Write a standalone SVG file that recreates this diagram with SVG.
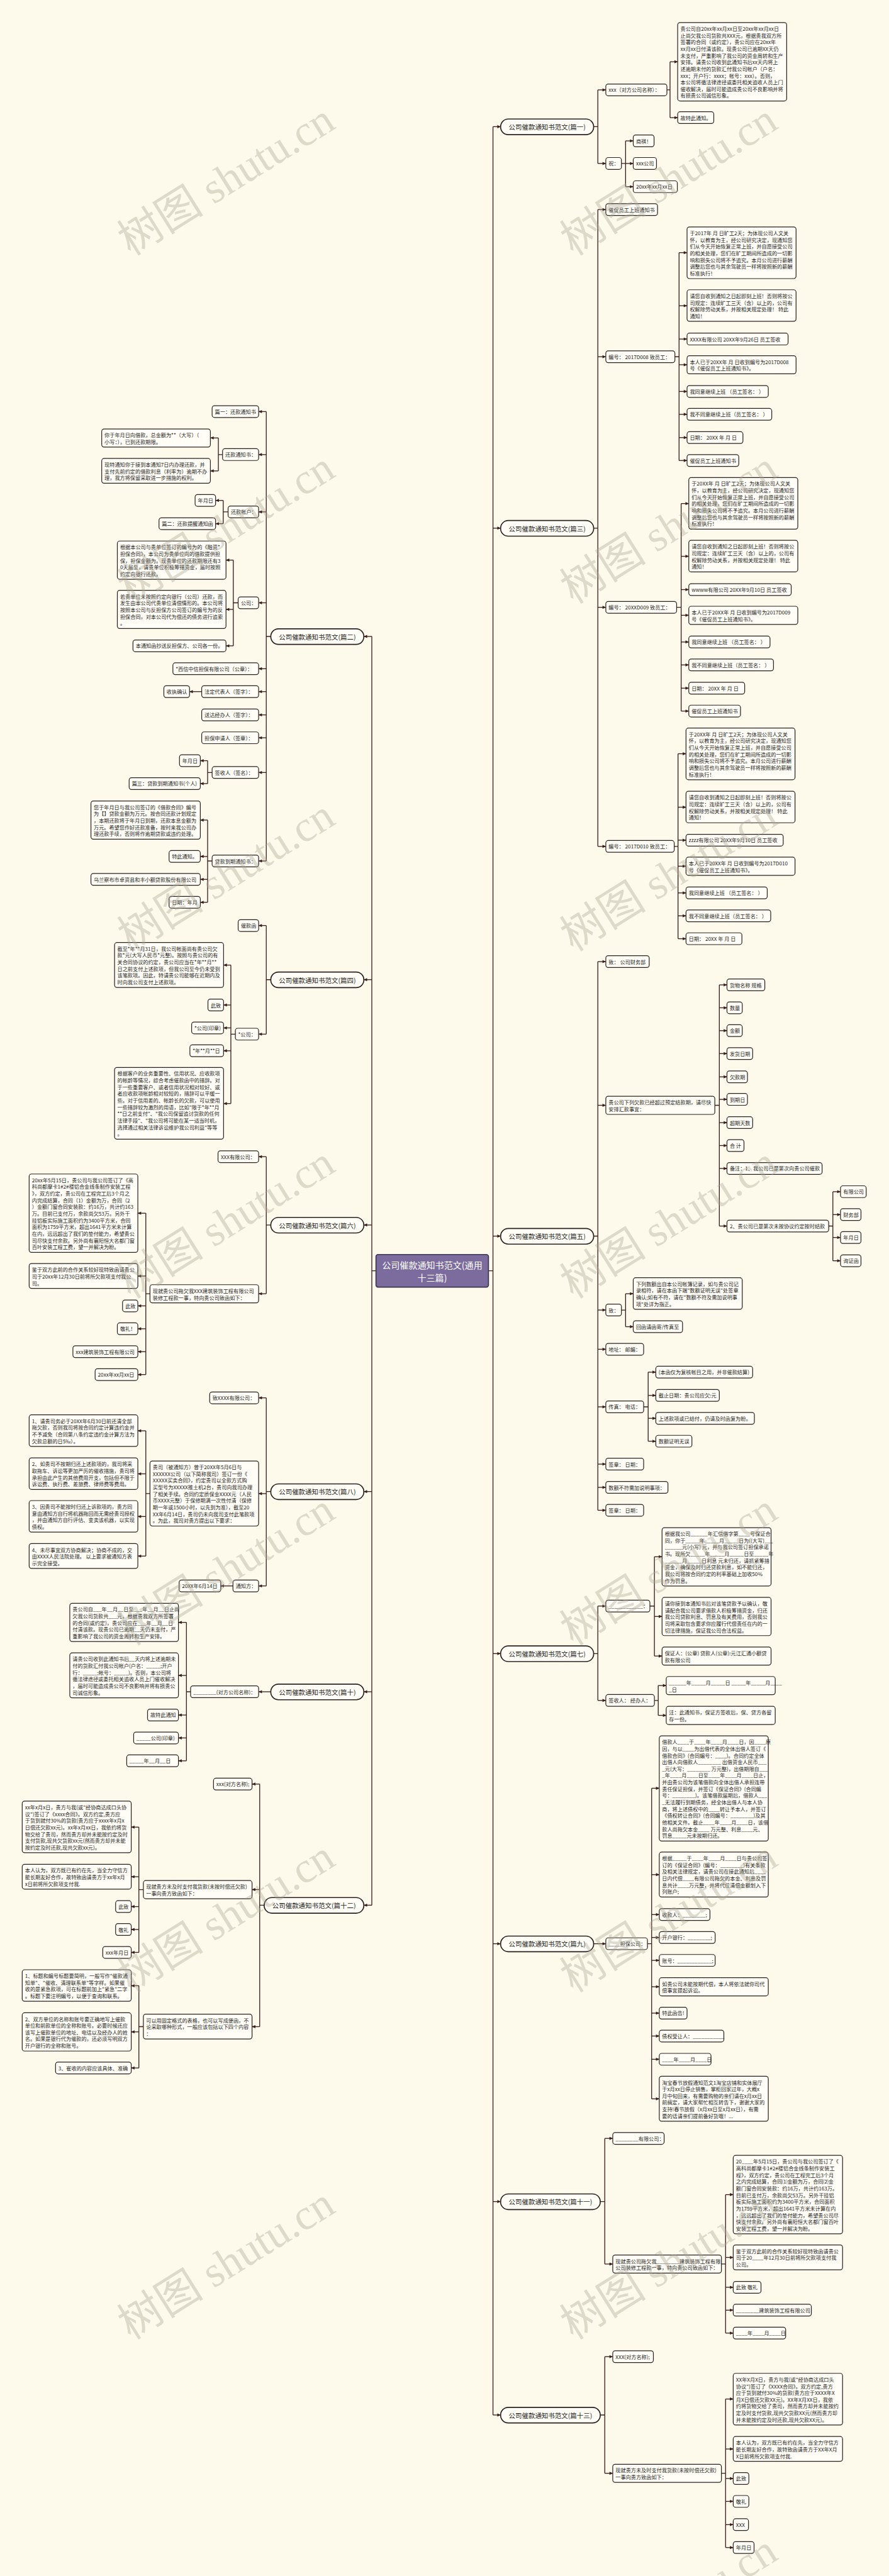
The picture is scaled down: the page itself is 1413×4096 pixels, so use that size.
<svg xmlns="http://www.w3.org/2000/svg" width="1413" height="4096" viewBox="0 0 1413 4096">
<style>
text{font-family:"Noto Sans CJK SC","Noto Sans",sans-serif;font-size:14.8px;fill:#1e1e1e;dominant-baseline:central}
.n rect{fill:#FFFDF5;stroke:#2b2020;stroke-width:2.2px;rx:7px;ry:7px}
.b rect{fill:#FFFDF5;stroke:#2b2020;stroke-width:3px;rx:22px;ry:22px}
.b text{font-size:19px;text-anchor:middle}
#center rect{fill:#7B6C9D;stroke:#3b3552;stroke-width:3px;rx:6px;ry:6px}
#center text{font-size:25.5px;fill:#fff;text-anchor:middle}
#connectors path{fill:none;stroke:#3a1c1c;stroke-width:2.4px}
#connectors .a{marker-end:url(#ar)}
.wm{font-family:"Liberation Serif","Noto Sans CJK SC",serif;font-size:125px;fill:#a9a596;fill-opacity:.38;text-anchor:middle;dominant-baseline:auto}
</style>
<defs>
<marker id="ar" viewBox="0 0 10 10" refX="9.5" refY="5" markerWidth="11" markerHeight="10" markerUnits="userSpaceOnUse" orient="auto"><path d="M0,0.5L10,5L0,9.5z" fill="#3a1c1c"/></marker>
</defs>
<rect width="1413" height="4096" fill="#FEFAEB"/>
<g transform="scale(0.5518)">
<g id="connectors">
<path d="M1407,3662H1420M1420,365V6959"/>
<path class="a" d="M1420,365H1442"/><path class="a" d="M1420,1522H1442"/><path class="a" d="M1420,3562H1442"/><path class="a" d="M1420,4765H1442"/><path class="a" d="M1420,5601H1442"/><path class="a" d="M1420,6344H1442"/><path class="a" d="M1420,6959H1442"/>
<path d="M1083,3662H1071M1071,1834V5490"/>
<path class="a" d="M1071,1834H1048"/><path class="a" d="M1071,2823H1048"/><path class="a" d="M1071,3530H1048"/><path class="a" d="M1071,4298H1048"/><path class="a" d="M1071,4875H1048"/><path class="a" d="M1071,5490H1048"/>
<path d="M1710,365H1722M1722,259V471"/><path class="a" d="M1722,259H1745"/><path class="a" d="M1722,471H1745"/>
<path d="M1918,259H1930M1930,178V339"/><path class="a" d="M1930,178H1952"/><path class="a" d="M1930,339H1952"/>
<path d="M1790,471H1802M1802,406V538"/><path class="a" d="M1802,406H1824"/><path class="a" d="M1802,471H1824"/><path class="a" d="M1802,538H1824"/>
<path d="M1710,1522H1722M1722,604V2439"/><path class="a" d="M1722,604H1745"/><path class="a" d="M1722,1028H1745"/><path class="a" d="M1722,1750H1745"/><path class="a" d="M1722,2439H1745"/>
<path d="M1944,1028H1956M1956,728V1327"/><path class="a" d="M1956,728H1979"/><path class="a" d="M1956,881H1979"/><path class="a" d="M1956,977H1979"/><path class="a" d="M1956,1051H1979"/><path class="a" d="M1956,1128H1979"/><path class="a" d="M1956,1194H1979"/><path class="a" d="M1956,1261H1979"/><path class="a" d="M1956,1327H1979"/>
<path d="M1949,1750H1962M1962,1451V2049"/><path class="a" d="M1962,1451H1984"/><path class="a" d="M1962,1603H1984"/><path class="a" d="M1962,1699H1984"/><path class="a" d="M1962,1773H1984"/><path class="a" d="M1962,1850H1984"/><path class="a" d="M1962,1916H1984"/><path class="a" d="M1962,1983H1984"/><path class="a" d="M1962,2049H1984"/>
<path d="M1942,2439H1953M1953,2172V2705"/><path class="a" d="M1953,2172H1976"/><path class="a" d="M1953,2326H1976"/><path class="a" d="M1953,2421H1976"/><path class="a" d="M1953,2496H1976"/><path class="a" d="M1953,2573H1976"/><path class="a" d="M1953,2639H1976"/><path class="a" d="M1953,2705H1976"/>
<path d="M1710,3562H1722M1722,2771V4352"/><path class="a" d="M1722,2771H1745"/><path class="a" d="M1722,3185H1745"/><path class="a" d="M1722,3775H1745"/><path class="a" d="M1722,3888H1745"/><path class="a" d="M1722,4054H1745"/><path class="a" d="M1722,4219H1745"/><path class="a" d="M1722,4286H1745"/><path class="a" d="M1722,4352H1745"/>
<path d="M2059,3185H2072M2072,2838V3533"/><path class="a" d="M2072,2838H2094"/><path class="a" d="M2072,2904H2094"/><path class="a" d="M2072,2970H2094"/><path class="a" d="M2072,3036H2094"/><path class="a" d="M2072,3103H2094"/><path class="a" d="M2072,3168H2094"/><path class="a" d="M2072,3235H2094"/><path class="a" d="M2072,3301H2094"/><path class="a" d="M2072,3367H2094"/><path class="a" d="M2072,3533H2094"/>
<path d="M2387,3533H2399M2399,3434V3633"/><path class="a" d="M2399,3434H2421"/><path class="a" d="M2399,3500H2421"/><path class="a" d="M2399,3566H2421"/><path class="a" d="M2399,3633H2421"/>
<path d="M1790,3775H1802M1802,3728V3823"/><path class="a" d="M1802,3728H1824"/><path class="a" d="M1802,3823H1824"/>
<path d="M1854,4054H1867M1867,3954V4153"/><path class="a" d="M1867,3954H1889"/><path class="a" d="M1867,4021H1889"/><path class="a" d="M1867,4087H1889"/><path class="a" d="M1867,4153H1889"/>
<path d="M1710,4765H1722M1722,4628V4900"/><path class="a" d="M1722,4628H1745"/><path class="a" d="M1722,4900H1745"/>
<path d="M1872,4628H1885M1885,4486V4772"/><path class="a" d="M1885,4486H1907"/><path class="a" d="M1885,4658H1907"/><path class="a" d="M1885,4772H1907"/>
<path d="M1885,4900H1896M1896,4857V4943"/><path class="a" d="M1896,4857H1919"/><path class="a" d="M1896,4943H1919"/>
<path class="a" d="M1710,5601H1745"/>
<path d="M1865,5601H1877M1877,5153V6048"/><path class="a" d="M1877,5153H1899"/><path class="a" d="M1877,5402H1899"/><path class="a" d="M1877,5517H1899"/><path class="a" d="M1877,5583H1899"/><path class="a" d="M1877,5649H1899"/><path class="a" d="M1877,5725H1899"/><path class="a" d="M1877,5801H1899"/><path class="a" d="M1877,5867H1899"/><path class="a" d="M1877,5934H1899"/><path class="a" d="M1877,6048H1899"/>
<path d="M1729,6344H1742M1742,6162V6524"/><path class="a" d="M1742,6162H1765"/><path class="a" d="M1742,6524H1765"/>
<path d="M2078,6524H2090M2090,6324V6723"/><path class="a" d="M2090,6324H2112"/><path class="a" d="M2090,6505H2112"/><path class="a" d="M2090,6591H2112"/><path class="a" d="M2090,6657H2112"/><path class="a" d="M2090,6723H2112"/>
<path d="M1729,6959H1742M1742,6791V7127"/><path class="a" d="M1742,6791H1765"/><path class="a" d="M1742,7127H1765"/>
<path d="M2078,7127H2090M2090,6913V7341"/><path class="a" d="M2090,6913H2112"/><path class="a" d="M2090,7057H2112"/><path class="a" d="M2090,7142H2112"/><path class="a" d="M2090,7208H2112"/><path class="a" d="M2090,7275H2112"/><path class="a" d="M2090,7341H2112"/>
<path d="M780,1834H767M767,1186V2481"/><path class="a" d="M767,1186H745"/><path class="a" d="M767,1310H745"/><path class="a" d="M767,1475H745"/><path class="a" d="M767,1737H745"/><path class="a" d="M767,1927H745"/><path class="a" d="M767,1993H745"/><path class="a" d="M767,2060H745"/><path class="a" d="M767,2126H745"/><path class="a" d="M767,2226H745"/><path class="a" d="M767,2481H745"/>
<path d="M641,1310H629M629,1262V1357"/><path class="a" d="M629,1262H606"/><path class="a" d="M629,1357H606"/>
<path d="M657,1475H643M643,1442V1509"/><path class="a" d="M643,1442H621"/><path class="a" d="M643,1509H621"/>
<path d="M686,1737H672M672,1614V1861"/><path class="a" d="M672,1614H651"/><path class="a" d="M672,1756H651"/><path class="a" d="M672,1861H651"/>
<path class="a" d="M581,1993H546"/>
<path d="M611,2226H598M598,2192V2258"/><path class="a" d="M598,2192H577"/><path class="a" d="M598,2258H577"/>
<path d="M611,2481H598M598,2363V2600"/><path class="a" d="M598,2363H577"/><path class="a" d="M598,2468H577"/><path class="a" d="M598,2534H577"/><path class="a" d="M598,2600H577"/>
<path d="M780,2823H767M767,2667V2980"/><path class="a" d="M767,2667H745"/><path class="a" d="M767,2980H745"/>
<path d="M678,2980H665M665,2781V3180"/><path class="a" d="M665,2781H644"/><path class="a" d="M665,2896H644"/><path class="a" d="M665,2962H644"/><path class="a" d="M665,3028H644"/><path class="a" d="M665,3180H644"/>
<path d="M780,3530H767M767,3333V3728"/><path class="a" d="M767,3333H745"/><path class="a" d="M767,3728H745"/>
<path d="M432,3728H420M420,3496V3961"/><path class="a" d="M420,3496H397"/><path class="a" d="M420,3677H397"/><path class="a" d="M420,3763H397"/><path class="a" d="M420,3829H397"/><path class="a" d="M420,3895H397"/><path class="a" d="M420,3961H397"/>
<path d="M780,4298H767M767,4028V4570"/><path class="a" d="M767,4028H745"/><path class="a" d="M767,4304H745"/><path class="a" d="M767,4570H745"/>
<path d="M432,4304H420M420,4123V4484"/><path class="a" d="M420,4123H397"/><path class="a" d="M420,4247H397"/><path class="a" d="M420,4370H397"/><path class="a" d="M420,4484H397"/>
<path class="a" d="M671,4570H636"/>
<path class="a" d="M780,4875H745"/>
<path d="M549,4875H537M537,4675V5074"/><path class="a" d="M537,4675H514"/><path class="a" d="M537,4828H514"/><path class="a" d="M537,4942H514"/><path class="a" d="M537,5008H514"/><path class="a" d="M537,5074H514"/>
<path d="M761,5490H748M748,5141V5840"/><path class="a" d="M748,5141H726"/><path class="a" d="M748,5445H726"/><path class="a" d="M748,5840H726"/>
<path d="M413,5445H400M400,5265V5626"/><path class="a" d="M400,5265H378"/><path class="a" d="M400,5408H378"/><path class="a" d="M400,5494H378"/><path class="a" d="M400,5560H378"/><path class="a" d="M400,5626H378"/>
<path d="M413,5840H400M400,5722V5959"/><path class="a" d="M400,5722H378"/><path class="a" d="M400,5855H378"/><path class="a" d="M400,5959H378"/>
</g>

<g id="center"><rect x="1083" y="3615" width="324" height="94"/><text x="1245" y="3645">公司催款通知书范文(通用</text><text x="1245" y="3680">十三篇)</text></g>

<!-- right branches -->
<g id="b1" class="b"><rect x="1442" y="343" width="268" height="45"/><text x="1576" y="365.5">公司催款通知书范文(篇一)</text></g>
<g id="b3" class="b"><rect x="1442" y="1500" width="268" height="45"/><text x="1576" y="1522.5">公司催款通知书范文(篇三)</text></g>
<g id="b5" class="b"><rect x="1442" y="3540" width="268" height="45"/><text x="1576" y="3562.5">公司催款通知书范文(篇五)</text></g>
<g id="b7" class="b"><rect x="1442" y="4743" width="268" height="45"/><text x="1576" y="4765.5">公司催款通知书范文(篇七)</text></g>
<g id="b9" class="b"><rect x="1442" y="5579" width="268" height="45"/><text x="1576" y="5601.5">公司催款通知书范文(篇九)</text></g>
<g id="b11" class="b"><rect x="1442" y="6322" width="287" height="45"/><text x="1585.5" y="6344.5">公司催款通知书范文(篇十一)</text></g>
<g id="b13" class="b"><rect x="1442" y="6937" width="287" height="45"/><text x="1585.5" y="6959.5">公司催款通知书范文(篇十三)</text></g>
<!-- left branches -->
<g id="b2" class="b"><rect x="780" y="1812" width="268" height="45"/><text x="914" y="1834.5">公司催款通知书范文(篇二)</text></g>
<g id="b4" class="b"><rect x="780" y="2801" width="268" height="45"/><text x="914" y="2823.5">公司催款通知书范文(篇四)</text></g>
<g id="b6" class="b"><rect x="780" y="3508" width="268" height="45"/><text x="914" y="3530.5">公司催款通知书范文(篇六)</text></g>
<g id="b8" class="b"><rect x="780" y="4276" width="268" height="45"/><text x="914" y="4298.5">公司催款通知书范文(篇八)</text></g>
<g id="b10" class="b"><rect x="780" y="4853" width="268" height="45"/><text x="914" y="4875.5">公司催款通知书范文(篇十)</text></g>
<g id="b12" class="b"><rect x="761" y="5468" width="287" height="45"/><text x="904.5" y="5490.5">公司催款通知书范文(篇十二)</text></g>

<!-- 篇一 -->
<g id="r1a" class="n"><rect x="1745" y="242" width="176" height="34"/><text x="1753" y="259">xxx（对方公司名称）：</text></g>
<g id="r1a1" class="n"><rect x="1952" y="65" width="314" height="226"/><text x="1960" y="81.5"><tspan x="1960">贵公司自20xx年xx月xx日至20xx年xx月xx日</tspan><tspan x="1960" dy="19.3">止尚欠我公司货款共XXX元，根据贵我双方所</tspan><tspan x="1960" dy="19.3">签署的合同（或约定），贵公司应在20xx年</tspan><tspan x="1960" dy="19.3">xx月xx日付清该款。现贵公司已逾期XX天仍</tspan><tspan x="1960" dy="19.3">未支付，严重影响了我公司的资金周转和生产</tspan><tspan x="1960" dy="19.3">安排。请贵公司收到此通知书后xx天内将上</tspan><tspan x="1960" dy="19.3">述逾期未付的货款汇付我公司帐户（户名：</tspan><tspan x="1960" dy="19.3">xxx；开户行：xxxx；帐号：xxx）。否则，</tspan><tspan x="1960" dy="19.3">本公司将循法律途径或委托相关追收人员上门</tspan><tspan x="1960" dy="19.3">催收解决，届时可能造成贵公司不良影响并将</tspan><tspan x="1960" dy="19.3">有损贵公司诚信形象。</tspan></text></g>
<g id="r1a2" class="n"><rect x="1952" y="322" width="104" height="34"/><text x="1960" y="339">故特此通知。</text></g>
<g id="r1b" class="n"><rect x="1745" y="454" width="45" height="34"/><text x="1753" y="471">祝：</text></g>
<g id="r1b1" class="n"><rect x="1824" y="389" width="60" height="34"/><text x="1832" y="406">商祺！</text></g>
<g id="r1b2" class="n"><rect x="1824" y="454" width="67" height="34"/><text x="1832" y="471">xxx公司</text></g>
<g id="r1b3" class="n"><rect x="1824" y="521" width="127" height="34"/><text x="1832" y="538">20xx年xx月xx日</text></g>

<!-- 篇三 -->
<g id="r3a" class="n"><rect x="1745" y="587" width="149" height="34"/><text x="1753" y="604">催促员工上班通知书</text></g>
<g id="r3b" class="n"><rect x="1745" y="1011" width="199" height="34"/><text x="1753" y="1028">编号： 2017D008 致员工：</text></g>
<g id="r3b1" class="n"><rect x="1979" y="654" width="314" height="148.8"/><text x="1987" y="670.5"><tspan x="1987">于2017年 月 日旷工2天；为体现公司人文关</tspan><tspan x="1987" dy="19.3">怀，以教育为主，经公司研究决定，现通知您</tspan><tspan x="1987" dy="19.3">们从今天开始恢复正常上班，并自愿接受公司</tspan><tspan x="1987" dy="19.3">的相关处理，您们在旷工期间所造成的一切影</tspan><tspan x="1987" dy="19.3">响和损失公司将不予追究。本月公司进行薪酬</tspan><tspan x="1987" dy="19.3">调整后您也与其余驾驶员一样将按照新的薪酬</tspan><tspan x="1987" dy="19.3">标准执行！</tspan></text></g>
<g id="r3b2" class="n"><rect x="1979" y="835" width="314" height="90.9"/><text x="1987" y="851.5"><tspan x="1987">请您自收到通知之日起即刻上班！否则将按公</tspan><tspan x="1987" dy="19.3">司规定：连续旷工三天（含）以上的，公司有</tspan><tspan x="1987" dy="19.3">权解除劳动关系，并按相关规定处理！ 特此</tspan><tspan x="1987" dy="19.3">通知！</tspan></text></g>
<g id="r3b3" class="n"><rect x="1979" y="960" width="291" height="34"/><text x="1987" y="977">XXXX有限公司 20XX年9月26日 员工签收</text></g>
<g id="r3b4" class="n"><rect x="1979" y="1025" width="314" height="52.3"/><text x="1987" y="1041.5"><tspan x="1987">本人已于20XX年 月 日收到编号为2017D008</tspan><tspan x="1987" dy="19.3">号《催促员工上班通知书》。</tspan></text></g>
<g id="r3b5" class="n"><rect x="1979" y="1111" width="234" height="34"/><text x="1987" y="1128">我同意继续上班 （员工签名： ）</text></g>
<g id="r3b6" class="n"><rect x="1979" y="1177" width="244" height="34"/><text x="1987" y="1194">我不同意继续上班（员工签名： ）</text></g>
<g id="r3b7" class="n"><rect x="1979" y="1244" width="161" height="34"/><text x="1987" y="1261">日期： 20XX 年 月 日</text></g>
<g id="r3b8" class="n"><rect x="1979" y="1310" width="149" height="34"/><text x="1987" y="1327">催促员工上班通知书</text></g>
<g id="r3c" class="n"><rect x="1745" y="1733" width="204" height="34"/><text x="1753" y="1750">编号： 20XXD009 致员工：</text></g>
<g id="r3c1" class="n"><rect x="1984" y="1376" width="314" height="148.8"/><text x="1992" y="1392.5"><tspan x="1992">于20XX年 月 日旷工2天；为体现公司人文关</tspan><tspan x="1992" dy="19.3">怀，以教育为主，经公司研究决定，现通知您</tspan><tspan x="1992" dy="19.3">们从今天开始恢复正常上班，并自愿接受公司</tspan><tspan x="1992" dy="19.3">的相关处理，您们在旷工期间所造成的一切影</tspan><tspan x="1992" dy="19.3">响和损失公司将不予追究。本月公司进行薪酬</tspan><tspan x="1992" dy="19.3">调整后您也与其余驾驶员一样将按照新的薪酬</tspan><tspan x="1992" dy="19.3">标准执行！</tspan></text></g>
<g id="r3c2" class="n"><rect x="1984" y="1557" width="314" height="90.9"/><text x="1992" y="1573.5"><tspan x="1992">请您自收到通知之日起即刻上班！否则将按公</tspan><tspan x="1992" dy="19.3">司规定：连续旷工三天（含）以上的，公司有</tspan><tspan x="1992" dy="19.3">权解除劳动关系，并按相关规定处理！ 特此</tspan><tspan x="1992" dy="19.3">通知！</tspan></text></g>
<g id="r3c3" class="n"><rect x="1984" y="1682" width="295" height="34"/><text x="1992" y="1699">wwww有限公司 20XX年9月10日 员工签收</text></g>
<g id="r3c4" class="n"><rect x="1984" y="1747" width="314" height="52.3"/><text x="1992" y="1763.5"><tspan x="1992">本人已于20XX年 月 日收到编号为2017D009</tspan><tspan x="1992" dy="19.3">号《催促员工上班通知书》。</tspan></text></g>
<g id="r3c5" class="n"><rect x="1984" y="1833" width="234" height="34"/><text x="1992" y="1850">我同意继续上班 （员工签名： ）</text></g>
<g id="r3c6" class="n"><rect x="1984" y="1899" width="244" height="34"/><text x="1992" y="1916">我不同意继续上班（员工签名： ）</text></g>
<g id="r3c7" class="n"><rect x="1984" y="1966" width="161" height="34"/><text x="1992" y="1983">日期： 20XX 年 月 日</text></g>
<g id="r3c8" class="n"><rect x="1984" y="2032" width="149" height="34"/><text x="1992" y="2049">催促员工上班通知书</text></g>
<g id="r3d" class="n"><rect x="1745" y="2422" width="197" height="34"/><text x="1753" y="2439">编号： 2017D010 致员工：</text></g>
<g id="r3d1" class="n"><rect x="1976" y="2098" width="314" height="148.8"/><text x="1984" y="2114.5"><tspan x="1984">于20XX年 月 日旷工2天；为体现公司人文关</tspan><tspan x="1984" dy="19.3">怀，以教育为主，经公司研究决定，现通知您</tspan><tspan x="1984" dy="19.3">们从今天开始恢复正常上班，并自愿接受公司</tspan><tspan x="1984" dy="19.3">的相关处理，您们在旷工期间所造成的一切影</tspan><tspan x="1984" dy="19.3">响和损失公司将不予追究。本月公司进行薪酬</tspan><tspan x="1984" dy="19.3">调整后您也与其余驾驶员一样将按照新的薪酬</tspan><tspan x="1984" dy="19.3">标准执行！</tspan></text></g>
<g id="r3d2" class="n"><rect x="1976" y="2280" width="314" height="90.9"/><text x="1984" y="2296.5"><tspan x="1984">请您自收到通知之日起即刻上班！否则将按公</tspan><tspan x="1984" dy="19.3">司规定：连续旷工三天（含）以上的，公司有</tspan><tspan x="1984" dy="19.3">权解除劳动关系，并按相关规定处理！ 特此</tspan><tspan x="1984" dy="19.3">通知！</tspan></text></g>
<g id="r3d3" class="n"><rect x="1976" y="2404" width="280" height="34"/><text x="1984" y="2421">zzzz有限公司 20XX年9月10日 员工签收</text></g>
<g id="r3d4" class="n"><rect x="1976" y="2470" width="314" height="52.3"/><text x="1984" y="2486.5"><tspan x="1984">本人已于20XX年 月 日收到编号为2017D010</tspan><tspan x="1984" dy="19.3">号《催促员工上班通知书》。</tspan></text></g>
<g id="r3d5" class="n"><rect x="1976" y="2556" width="234" height="34"/><text x="1984" y="2573">我同意继续上班 （员工签名： ）</text></g>
<g id="r3d6" class="n"><rect x="1976" y="2622" width="244" height="34"/><text x="1984" y="2639">我不同意继续上班（员工签名： ）</text></g>
<g id="r3d7" class="n"><rect x="1976" y="2688" width="161" height="34"/><text x="1984" y="2705">日期： 20XX 年 月 日</text></g>

<!-- 篇五 -->
<g id="r5a" class="n"><rect x="1745" y="2754" width="125" height="34"/><text x="1753" y="2771">致： 公司财务部</text></g>
<g id="r5b" class="n"><rect x="1745" y="3159" width="314" height="52.3"/><text x="1753" y="3175.5"><tspan x="1753">贵公司下列欠款已经超过预定结款期，请尽快</tspan><tspan x="1753" dy="19.3">安排汇款事宜：</tspan></text></g>
<g id="r5b1" class="n"><rect x="2094" y="2821" width="109" height="34"/><text x="2102" y="2838">货物名称 规格</text></g>
<g id="r5b2" class="n"><rect x="2094" y="2887" width="44" height="34"/><text x="2102" y="2904">数量</text></g>
<g id="r5b3" class="n"><rect x="2094" y="2953" width="44" height="34"/><text x="2102" y="2970">金额</text></g>
<g id="r5b4" class="n"><rect x="2094" y="3019" width="74" height="34"/><text x="2102" y="3036">发货日期</text></g>
<g id="r5b5" class="n"><rect x="2094" y="3086" width="59" height="34"/><text x="2102" y="3103">欠款期</text></g>
<g id="r5b6" class="n"><rect x="2094" y="3151" width="59" height="34"/><text x="2102" y="3168">到期日</text></g>
<g id="r5b7" class="n"><rect x="2094" y="3218" width="74" height="34"/><text x="2102" y="3235">超期天数</text></g>
<g id="r5b8" class="n"><rect x="2094" y="3284" width="49" height="34"/><text x="2102" y="3301">合 计</text></g>
<g id="r5b9" class="n"><rect x="2094" y="3350" width="274" height="34"/><text x="2102" y="3367">备注：1、我公司已是第次向贵公司催款</text></g>
<g id="r5b10" class="n"><rect x="2094" y="3516" width="293" height="34"/><text x="2102" y="3533">2、贵公司已是第次未按协议约定按时结款</text></g>
<g id="r5c1" class="n"><rect x="2421" y="3417" width="74" height="34"/><text x="2429" y="3434">有限公司</text></g>
<g id="r5c2" class="n"><rect x="2421" y="3483" width="59" height="34"/><text x="2429" y="3500">财务部</text></g>
<g id="r5c3" class="n"><rect x="2421" y="3549" width="59" height="34"/><text x="2429" y="3566">年月日</text></g>
<g id="r5c4" class="n"><rect x="2421" y="3616" width="59" height="34"/><text x="2429" y="3633">询证函</text></g>
<g id="r5d" class="n"><rect x="1745" y="3758" width="45" height="34"/><text x="1753" y="3775">致：</text></g>
<g id="r5d1" class="n"><rect x="1824" y="3682" width="314" height="90.9"/><text x="1832" y="3698.5"><tspan x="1832">下列数额出自本公司帐簿记录，如与贵公司记</tspan><tspan x="1832" dy="19.3">录相符，请在本函下端"数额证明无误"处签章</tspan><tspan x="1832" dy="19.3">确认;如有不符，请在"数额不符及需加说明事</tspan><tspan x="1832" dy="19.3">项"处详为指正。</tspan></text></g>
<g id="r5d2" class="n"><rect x="1824" y="3806" width="142" height="34"/><text x="1832" y="3823">回函请函寄/传真至</text></g>
<g id="r5e" class="n"><rect x="1745" y="3871" width="109" height="34"/><text x="1753" y="3888">地址： 邮编：</text></g>
<g id="r5f" class="n"><rect x="1745" y="4037" width="109" height="34"/><text x="1753" y="4054">传真： 电话：</text></g>
<g id="r5f1" class="n"><rect x="1889" y="3937" width="279" height="34"/><text x="1897" y="3954">(本函仅为复核帐目之用，并非催款结算)</text></g>
<g id="r5f2" class="n"><rect x="1889" y="4004" width="183" height="34"/><text x="1897" y="4021">截止日期：贵公司应欠:元</text></g>
<g id="r5f3" class="n"><rect x="1889" y="4070" width="284" height="34"/><text x="1897" y="4087">上述款项或已结付，仍请及时函复为盼。</text></g>
<g id="r5f4" class="n"><rect x="1889" y="4136" width="104" height="34"/><text x="1897" y="4153">数额证明无误</text></g>
<g id="r5g" class="n"><rect x="1745" y="4202" width="109" height="34"/><text x="1753" y="4219">签章： 日期：</text></g>
<g id="r5h" class="n"><rect x="1745" y="4269" width="179" height="34"/><text x="1753" y="4286">数额不符需加说明事项：</text></g>
<g id="r5i" class="n"><rect x="1745" y="4335" width="109" height="34"/><text x="1753" y="4352">签章： 日期：</text></g>

<!-- 篇七 -->
<g id="r7a" class="n"><rect x="1745" y="4611" width="127" height="34"/><text x="1753" y="4628">____________：</text></g>
<g id="r7a1" class="n"><rect x="1907" y="4402" width="314" height="168.1"/><text x="1915" y="4418.5"><tspan x="1915">根据我公司______年汇信借字第____号保证合</tspan><tspan x="1915" dy="19.3">同，你于_____年_____月_____日为((大写)___</tspan><tspan x="1915" dy="19.3">______元(小写) 元，并与我公司签订担保承诺</tspan><tspan x="1915" dy="19.3">书。现所欠_____年_____月_____日至_____年</tspan><tspan x="1915" dy="19.3">______月_____日利息 元未归还，请抓紧筹措</tspan><tspan x="1915" dy="19.3">资金，确保及时归还贷款利息，如不能归还，</tspan><tspan x="1915" dy="19.3">我公司将按合同约定的利率基础上加收50%</tspan><tspan x="1915" dy="19.3">作为罚息。</tspan></text></g>
<g id="r7a2" class="n"><rect x="1907" y="4603" width="314" height="110.2"/><text x="1915" y="4619.5"><tspan x="1915">请你接到本通知书后对该笔贷款予以确认，敬</tspan><tspan x="1915" dy="19.3">请配合我公司要求借款人积极筹措资金，归还</tspan><tspan x="1915" dy="19.3">我公司贷款利息、罚息及有关费用，否则我公</tspan><tspan x="1915" dy="19.3">司将采取包含要求你应履行代偿责任在内的一</tspan><tspan x="1915" dy="19.3">切法律措施，保证我公司合法权益。</tspan></text></g>
<g id="r7a3" class="n"><rect x="1907" y="4746" width="314" height="52.3"/><text x="1915" y="4762.5"><tspan x="1915">保证人：(公章) 贷款人(公章):元江汇通小额贷</tspan><tspan x="1915" dy="19.3">款有限公司</tspan></text></g>
<g id="r7b" class="n"><rect x="1745" y="4883" width="140" height="34"/><text x="1753" y="4900">签收人： 经办人：</text></g>
<g id="r7b1" class="n"><rect x="1919" y="4831" width="314" height="52.3"/><text x="1927" y="4847.5"><tspan x="1927">______年_____月_____日 _____年_____月____</tspan><tspan x="1927" dy="19.3">_日</tspan></text></g>
<g id="r7b2" class="n"><rect x="1919" y="4917" width="314" height="52.3"/><text x="1927" y="4933.5"><tspan x="1927">注：此通知书，保证方签收后，保、贷方各留</tspan><tspan x="1927" dy="19.3">存一份。</tspan></text></g>

<!-- 篇九 -->
<g id="r9a" class="n"><rect x="1745" y="5584" width="120" height="34"/><text x="1753" y="5601">____担保公司：</text></g>
<g id="r9a1" class="n"><rect x="1899" y="5002" width="314" height="303.2"/><text x="1907" y="5018.5"><tspan x="1907">借款人____于____年____月____日，因____原</tspan><tspan x="1907" dy="19.3">因，与以____为出借代表的全体出借人签订《</tspan><tspan x="1907" dy="19.3">借款合同》(合同编号：____)。合同约定全体</tspan><tspan x="1907" dy="19.3">出借人向借款人________ 出借资金人民币___</tspan><tspan x="1907" dy="19.3">_元(大写：________ 万元整)，出借期限自___</tspan><tspan x="1907" dy="19.3">_年____月____日至____年____月____日止，</tspan><tspan x="1907" dy="19.3">并由贵公司为该笔借款向全体出借人承担连带</tspan><tspan x="1907" dy="19.3">责任保证担保，并签订《保证合同》(合同编</tspan><tspan x="1907" dy="19.3">号：________)。该笔借款届期后，借款人___</tspan><tspan x="1907" dy="19.3">_无法履行到期债务，经全体出借人与本人协</tspan><tspan x="1907" dy="19.3">商，将上述债权中的____转让予本人，并签订</tspan><tspan x="1907" dy="19.3">《债权转让合同》(合同编号：________)及其</tspan><tspan x="1907" dy="19.3">他相关文件。截止____年____月____日，该借</tspan><tspan x="1907" dy="19.3">款人尚拖欠本金____ 万元整、利息____元、</tspan><tspan x="1907" dy="19.3">罚息_____元未按期归还。</tspan></text></g>
<g id="r9a2" class="n"><rect x="1899" y="5337" width="314" height="129.5"/><text x="1907" y="5353.5"><tspan x="1907">根据_____于____年____月____日与贵公司签</tspan><tspan x="1907" dy="19.3">订的《保证合同》(编号：________)有关条款</tspan><tspan x="1907" dy="19.3">及相关法律规定，请贵公司在接此通知后____</tspan><tspan x="1907" dy="19.3">日内代偿____有限公司拖欠的本金、利息及罚</tspan><tspan x="1907" dy="19.3">息共计____万元整，并将代位清偿金额划入下</tspan><tspan x="1907" dy="19.3">列账户;</tspan></text></g>
<g id="r9a3" class="n"><rect x="1899" y="5500" width="146" height="34"/><text x="1907" y="5517">收款人：________;</text></g>
<g id="r9a4" class="n"><rect x="1899" y="5566" width="161" height="34"/><text x="1907" y="5583">开户银行：________;</text></g>
<g id="r9a5" class="n"><rect x="1899" y="5632" width="161" height="34"/><text x="1907" y="5649">账号：____________;</text></g>
<g id="r9a6" class="n"><rect x="1899" y="5699" width="314" height="52.3"/><text x="1907" y="5715.5"><tspan x="1907">如贵公司未能按期代偿，本人将依法就你司代</tspan><tspan x="1907" dy="19.3">偿事宜提起诉讼。</tspan></text></g>
<g id="r9a7" class="n"><rect x="1899" y="5784" width="80" height="34"/><text x="1907" y="5801">特此函告!</text></g>
<g id="r9a8" class="n"><rect x="1899" y="5850" width="186" height="34"/><text x="1907" y="5867">债权受让人：___________</text></g>
<g id="r9a9" class="n"><rect x="1899" y="5917" width="149" height="34"/><text x="1907" y="5934">____年____月____日</text></g>
<g id="r9a10" class="n"><rect x="1899" y="5983" width="314" height="129.5"/><text x="1907" y="5999.5"><tspan x="1907">淘宝春节放假通知范文1淘宝店铺和实体展厅</tspan><tspan x="1907" dy="19.3">于x月xx日停止销售，掌柜回家过年，大概x</tspan><tspan x="1907" dy="19.3">月中旬回来，有需要购物的亲们请在x月xx日</tspan><tspan x="1907" dy="19.3">前搞定，请大家帮忙相互转告下，谢谢大家的</tspan><tspan x="1907" dy="19.3">支持!春节放假（x月xx日至x月xx日），有需</tspan><tspan x="1907" dy="19.3">要的话请亲们提前备好货哦！...</tspan></text></g>

<!-- 篇十一 -->
<g id="r11a" class="n"><rect x="1765" y="6145" width="148" height="34"/><text x="1773" y="6162">________有限公司：</text></g>
<g id="r11b" class="n"><rect x="1765" y="6498" width="313" height="52.3"/><text x="1773" y="6514.5"><tspan x="1773">现就贵公司拖欠我________建筑装饰工程有限</tspan><tspan x="1773" dy="19.3">公司装修工程款一事，特向贵公司致函如下：</tspan></text></g>
<g id="r11b1" class="n"><rect x="2112" y="6211" width="315" height="226"/><text x="2120" y="6227.5"><tspan x="2120">20____年5月15日，贵公司与我公司签订了《</tspan><tspan x="2120" dy="19.3">高科尚都摩卡1#2#楼铝合金线条制作安装工</tspan><tspan x="2120" dy="19.3">程》，双方约定，贵公司在工程完工后3个月</tspan><tspan x="2120" dy="19.3">之内完成结算，合同⑴金额为万，合同⑵金</tspan><tspan x="2120" dy="19.3">额门窗合同安装款：约16万，共计约163万。</tspan><tspan x="2120" dy="19.3">目前已支付万，余款尚欠53万。另外干挂铝</tspan><tspan x="2120" dy="19.3">板实际施工面积约为3400平方米，合同面积</tspan><tspan x="2120" dy="19.3">为1759平方米，超出1641平方米未计算在内</tspan><tspan x="2120" dy="19.3">，远远超出了我们的垫付能力，希望贵公司尽</tspan><tspan x="2120" dy="19.3">快支付余款。另外尚有襄阳恒大名都门窗百叶</tspan><tspan x="2120" dy="19.3">安装工程工费，望一并解决为盼。</tspan></text></g>
<g id="r11b2" class="n"><rect x="2112" y="6469" width="315" height="71.6"/><text x="2120" y="6485.5"><tspan x="2120">鉴于双方此前的合作关系较好现特致函请贵公</tspan><tspan x="2120" dy="19.3">司于20____年12月30日前将所欠款项支付我</tspan><tspan x="2120" dy="19.3">公司。</tspan></text></g>
<g id="r11b3" class="n"><rect x="2112" y="6574" width="80" height="34"/><text x="2120" y="6591">此致 敬礼</text></g>
<g id="r11b4" class="n"><rect x="2112" y="6640" width="225" height="34"/><text x="2120" y="6657">________建筑装饰工程有限公司</text></g>
<g id="r11b5" class="n"><rect x="2112" y="6706" width="151" height="34"/><text x="2120" y="6723">____年____月____日</text></g>

<!-- 篇十三 -->
<g id="r13a" class="n"><rect x="1765" y="6774" width="117" height="34"/><text x="1773" y="6791">XXX(对方名称);</text></g>
<g id="r13b" class="n"><rect x="1765" y="7101" width="313" height="52.3"/><text x="1773" y="7117.5"><tspan x="1773">现就贵方未及时支付我货款(未按时偿还欠款)</tspan><tspan x="1773" dy="19.3">一事向贵方致函如下：</tspan></text></g>
<g id="r13b1" class="n"><rect x="2112" y="6839" width="315" height="148.8"/><text x="2120" y="6855.5"><tspan x="2120">XX年X月X日，贵方与我(或"经协商达成口头</tspan><tspan x="2120" dy="19.3">协议")签订了《XXXX合同》。双方约定,贵方</tspan><tspan x="2120" dy="19.3">应于货到就付30%的货款(贵方应于XXXX年X</tspan><tspan x="2120" dy="19.3">月X日偿还欠款XX元)。XX年X月XX日，我依</tspan><tspan x="2120" dy="19.3">约将货物交给了贵司，然而贵方却并未能按约</tspan><tspan x="2120" dy="19.3">定及时支付货款,现共欠货款XX元(然而贵方却</tspan><tspan x="2120" dy="19.3">并未能按约定及时还款,现共欠款XX元)。</tspan></text></g>
<g id="r13b2" class="n"><rect x="2112" y="7021" width="315" height="71.6"/><text x="2120" y="7037.5"><tspan x="2120">本人认为，双方既已有约在先，当全力守信方</tspan><tspan x="2120" dy="19.3">能长期友好合作，故特致函请贵方于XX年X月</tspan><tspan x="2120" dy="19.3">X日前将所欠款项支付我.</tspan></text></g>
<g id="r13b3" class="n"><rect x="2112" y="7125" width="45" height="34"/><text x="2120" y="7142">此致</text></g>
<g id="r13b4" class="n"><rect x="2112" y="7191" width="45" height="34"/><text x="2120" y="7208">敬礼</text></g>
<g id="r13b5" class="n"><rect x="2112" y="7258" width="44" height="34"/><text x="2120" y="7275">XXX</text></g>
<g id="r13b6" class="n"><rect x="2112" y="7324" width="60" height="34"/><text x="2120" y="7341">年月日</text></g>

<!-- 篇二 -->
<g id="l2a" class="n"><rect x="611" y="1169" width="134" height="34"/><text x="619" y="1186">篇一：还款通知书</text></g>
<g id="l2b" class="n"><rect x="641" y="1293" width="104" height="34"/><text x="649" y="1310">还款通知书：</text></g>
<g id="l2b1" class="n"><rect x="293" y="1236" width="313" height="52.3"/><text x="301" y="1252.5"><tspan x="301">你于年月日向借款，总金额为**（大写）（</tspan><tspan x="301" dy="19.3">小写：），已到还款期限。</tspan></text></g>
<g id="l2b2" class="n"><rect x="293" y="1321" width="313" height="71.6"/><text x="301" y="1337.5"><tspan x="301">现特通知你于接到本通知7日内办理还款，并</tspan><tspan x="301" dy="19.3">支付先前约定的借款利息（利率为）逾期不办</tspan><tspan x="301" dy="19.3">理，我方将保留采取进一步措施的权利。</tspan></text></g>
<g id="l2c" class="n"><rect x="657" y="1458" width="88" height="34"/><text x="665" y="1475">还款帐户：</text></g>
<g id="l2c1" class="n"><rect x="562" y="1425" width="59" height="34"/><text x="570" y="1442">年月日</text></g>
<g id="l2c2" class="n"><rect x="458" y="1492" width="163" height="34"/><text x="466" y="1509">篇二：还款提醒通知函</text></g>
<g id="l2d" class="n"><rect x="686" y="1720" width="59" height="34"/><text x="694" y="1737">公司：</text></g>
<g id="l2d1" class="n"><rect x="338" y="1559" width="313" height="110.2"/><text x="346" y="1575.5"><tspan x="346">根据本公司与贵单位签订的编号为的《融资*</tspan><tspan x="346" dy="19.3">担保合同》，本公司为贵单位向的借款提供担</tspan><tspan x="346" dy="19.3">保，担保金额为。现贵单位的还款期限还有3</tspan><tspan x="346" dy="19.3">0天届至，请贵单位积极筹措资金，届时按照</tspan><tspan x="346" dy="19.3">约定向银行还款。</tspan></text></g>
<g id="l2d2" class="n"><rect x="338" y="1701" width="313" height="110.2"/><text x="346" y="1717.5"><tspan x="346">若贵单位未按照约定向银行（公司）还款，而</tspan><tspan x="346" dy="19.3">发生由本公司代贵单位清偿情形的。本公司将</tspan><tspan x="346" dy="19.3">按照本公司与反担保方公司签订的编号为的反</tspan><tspan x="346" dy="19.3">担保合同，对本公司代为偿还的债务进行追索</tspan><tspan x="346" dy="19.3">。</tspan></text></g>
<g id="l2d3" class="n"><rect x="383" y="1844" width="268" height="34"/><text x="391" y="1861">本通知函抄送反担保方、公司各一份。</text></g>
<g id="l2e" class="n"><rect x="498" y="1910" width="247" height="34"/><text x="506" y="1927">*西信中信担保有限公司（公章）：</text></g>
<g id="l2f" class="n"><rect x="581" y="1976" width="164" height="34"/><text x="589" y="1993">法定代表人（签字）：</text></g>
<g id="l2f1" class="n"><rect x="472" y="1976" width="74" height="34"/><text x="480" y="1993">收执确认</text></g>
<g id="l2g" class="n"><rect x="581" y="2043" width="164" height="34"/><text x="589" y="2060">送达经办人（签字）：</text></g>
<g id="l2h" class="n"><rect x="581" y="2109" width="164" height="34"/><text x="589" y="2126">担保申请人（签章）：</text></g>
<g id="l2i" class="n"><rect x="611" y="2209" width="134" height="34"/><text x="619" y="2226">签收人（签名）：</text></g>
<g id="l2i1" class="n"><rect x="517" y="2175" width="60" height="34"/><text x="525" y="2192">年月日</text></g>
<g id="l2i2" class="n"><rect x="372" y="2241" width="205" height="34"/><text x="380" y="2258">篇三：贷款到期通知书(个人)</text></g>
<g id="l2j" class="n"><rect x="611" y="2464" width="134" height="34"/><text x="619" y="2481">贷款到期通知书：</text></g>
<g id="l2j1" class="n"><rect x="262" y="2308" width="315" height="110.2"/><text x="270" y="2324.5"><tspan x="270">您于年月日与我公司签订的《借款合同》编号</tspan><tspan x="270" dy="19.3">为【】贷款金额为万元。按合同还款计划规定</tspan><tspan x="270" dy="19.3">，本期还款将于年月日到期，还款本息金额为</tspan><tspan x="270" dy="19.3">万元。希望您作好还款准备，按时来我公司办</tspan><tspan x="270" dy="19.3">理还款手续，否则将作逾期贷款或违约处理。</tspan></text></g>
<g id="l2j2" class="n"><rect x="487" y="2451" width="90" height="34"/><text x="495" y="2468">特此通知。</text></g>
<g id="l2j3" class="n"><rect x="262" y="2517" width="315" height="34"/><text x="270" y="2534">乌兰察布市卓资县和丰小额贷款股份有限公司</text></g>
<g id="l2j4" class="n"><rect x="487" y="2583" width="90" height="34"/><text x="495" y="2600">日期：年月</text></g>

<!-- 篇四 -->
<g id="l4a" class="n"><rect x="686" y="2650" width="59" height="34"/><text x="694" y="2667">催款函</text></g>
<g id="l4b" class="n"><rect x="678" y="2963" width="67" height="34"/><text x="686" y="2980">*公司：</text></g>
<g id="l4b1" class="n"><rect x="330" y="2716" width="314" height="129.5"/><text x="338" y="2732.5"><tspan x="338">截至*年**月31日，我公司帐面尚有贵公司欠</tspan><tspan x="338" dy="19.3">款*元(大写人民币*元整)。按照与贵公司的有</tspan><tspan x="338" dy="19.3">关合同协议的约定，贵公司应当在*年**月**</tspan><tspan x="338" dy="19.3">日之前支付上述款项，但我公司至今仍未受到</tspan><tspan x="338" dy="19.3">该笔款项。因此，特请贵公司能够在近期内及</tspan><tspan x="338" dy="19.3">时向我公司支付上述款项。</tspan></text></g>
<g id="l4b2" class="n"><rect x="599" y="2879" width="45" height="34"/><text x="607" y="2896">此致</text></g>
<g id="l4b3" class="n"><rect x="552" y="2945" width="92" height="34"/><text x="560" y="2962">*公司(印章)</text></g>
<g id="l4b4" class="n"><rect x="547" y="3011" width="97" height="34"/><text x="555" y="3028">*年**月**日</text></g>
<g id="l4b5" class="n"><rect x="330" y="3076" width="314" height="206.7"/><text x="338" y="3092.5"><tspan x="338">根据客户的业务重要性、信用状况、应收款项</tspan><tspan x="338" dy="19.3">的帐龄等情况，综合考虑催款函中的措辞。对</tspan><tspan x="338" dy="19.3">于一些重要客户、或者信用状况相对较好、或</tspan><tspan x="338" dy="19.3">者应收款项帐龄相对较短的，措辞可以平缓一</tspan><tspan x="338" dy="19.3">些。对于信用差的、帐龄长的欠款，可以使用</tspan><tspan x="338" dy="19.3">一些措辞较为激烈的用语，比如"限于*年**月</tspan><tspan x="338" dy="19.3">**日之前支付"、"我公司保留追讨货款的任何</tspan><tspan x="338" dy="19.3">法律手段"、"我公司将可能在某一适当时机，</tspan><tspan x="338" dy="19.3">选择通过相关法律诉讼维护我公司利益"等等</tspan><tspan x="338" dy="19.3">。</tspan></text></g>

<!-- 篇六 -->
<g id="l6a" class="n"><rect x="628" y="3316" width="117" height="34"/><text x="636" y="3333">XXX有限公司：</text></g>
<g id="l6b" class="n"><rect x="432" y="3702" width="313" height="52.3"/><text x="440" y="3718.5"><tspan x="440">现就贵公司拖欠我XXX建筑装饰工程有限公司</tspan><tspan x="440" dy="19.3">装修工程款一事，特向贵公司致函如下：</tspan></text></g>
<g id="l6b1" class="n"><rect x="84" y="3383" width="313" height="226"/><text x="92" y="3399.5"><tspan x="92">20xx年5月15日，贵公司与我公司签订了《高</tspan><tspan x="92" dy="19.3">科尚都摩卡1#2#楼铝合金线条制作安装工程</tspan><tspan x="92" dy="19.3">》，双方约定，贵公司在工程完工后3个月之</tspan><tspan x="92" dy="19.3">内完成结算，合同（1）金额为万，合同（2</tspan><tspan x="92" dy="19.3">）金额门窗合同安装款：约16万，共计约163</tspan><tspan x="92" dy="19.3">万。目前已支付万，余款尚欠53万。另外干</tspan><tspan x="92" dy="19.3">挂铝板实际施工面积约为3400平方米，合同</tspan><tspan x="92" dy="19.3">面积为1759平方米，超出1641平方米未计算</tspan><tspan x="92" dy="19.3">在内，远远超出了我们的垫付能力，希望贵公</tspan><tspan x="92" dy="19.3">司尽快支付余款。另外尚有襄阳恒大名都门窗</tspan><tspan x="92" dy="19.3">百叶安装工程工费，望一并解决为盼。</tspan></text></g>
<g id="l6b2" class="n"><rect x="84" y="3641" width="313" height="71.6"/><text x="92" y="3657.5"><tspan x="92">鉴于双方此前的合作关系较好现特致函请贵公</tspan><tspan x="92" dy="19.3">司于20xx年12月30日前将所欠款项支付我公</tspan><tspan x="92" dy="19.3">司。</tspan></text></g>
<g id="l6b3" class="n"><rect x="353" y="3746" width="44" height="34"/><text x="361" y="3763">此致</text></g>
<g id="l6b4" class="n"><rect x="338" y="3812" width="59" height="34"/><text x="346" y="3829">敬礼！</text></g>
<g id="l6b5" class="n"><rect x="210" y="3878" width="187" height="34"/><text x="218" y="3895">xxx建筑装饰工程有限公司</text></g>
<g id="l6b6" class="n"><rect x="274" y="3944" width="123" height="34"/><text x="282" y="3961">20xx年xx月xx日</text></g>

<!-- 篇八 -->
<g id="l8a" class="n"><rect x="604" y="4011" width="141" height="34"/><text x="612" y="4028">致XXXX有限公司：</text></g>
<g id="l8b" class="n"><rect x="432" y="4210" width="313" height="187.4"/><text x="440" y="4226.5"><tspan x="440">贵司（被通知方）曾于20XX年5月6日与</tspan><tspan x="440" dy="19.3">XXXXXX公司（以下简称我司）签订一份《</tspan><tspan x="440" dy="19.3">XXXXX买卖合同》，约定贵司以全款方式购</tspan><tspan x="440" dy="19.3">买型号为XXXXX推土机2台，贵司向我司办理</tspan><tspan x="440" dy="19.3">了相关手续。合同约定质保金XXXX元（人民</tspan><tspan x="440" dy="19.3">币XXXX元整）于保修期满一次性付清（保修</tspan><tspan x="440" dy="19.3">期一年或1500小时，以先到为准），截至20</tspan><tspan x="440" dy="19.3">XX年6月14日，贵司仍未向我司支付此笔款项</tspan><tspan x="440" dy="19.3">。为此，我司对贵方提出以下要求：</tspan></text></g>
<g id="l8b1" class="n"><rect x="84" y="4077" width="313" height="90.9"/><text x="92" y="4093.5"><tspan x="92">1、请贵司务必于20XX年6月30日前还清全部</tspan><tspan x="92" dy="19.3">拖欠款，否则我司将按合同约定计算违约金并</tspan><tspan x="92" dy="19.3">不予减免（合同第八条约定违约金计算方法为</tspan><tspan x="92" dy="19.3">欠款总额的日5‰）。</tspan></text></g>
<g id="l8b2" class="n"><rect x="84" y="4201" width="313" height="90.9"/><text x="92" y="4217.5"><tspan x="92">2、如贵司不按期归还上述款项的，我司将采</tspan><tspan x="92" dy="19.3">取拖车、诉讼等更加严厉的催收措施，贵司将</tspan><tspan x="92" dy="19.3">承担由此产生的其他费用开支，包括但不限于</tspan><tspan x="92" dy="19.3">诉讼费、执行费、差旅费、律师费等费用。</tspan></text></g>
<g id="l8b3" class="n"><rect x="84" y="4324" width="313" height="90.9"/><text x="92" y="4340.5"><tspan x="92">3、因贵司不能按时归还上诉款项的，贵方同</tspan><tspan x="92" dy="19.3">意由通知方自行将机器拖回而无需经贵司授权</tspan><tspan x="92" dy="19.3">，并由通知方自行评估、变卖该机器，以实现</tspan><tspan x="92" dy="19.3">债权。</tspan></text></g>
<g id="l8b4" class="n"><rect x="84" y="4448" width="313" height="71.6"/><text x="92" y="4464.5"><tspan x="92">4、未尽事宜双方协商解决；协商不成的，交</tspan><tspan x="92" dy="19.3">由XXXX人民法院处理。 以上要求被通知方表</tspan><tspan x="92" dy="19.3">示完全接受。</tspan></text></g>
<g id="l8c" class="n"><rect x="671" y="4553" width="74" height="34"/><text x="679" y="4570">通知方：</text></g>
<g id="l8c1" class="n"><rect x="516" y="4553" width="120" height="34"/><text x="524" y="4570">20XX年6月14日</text></g>

<!-- 篇十 -->
<g id="l10a" class="n"><rect x="549" y="4858" width="196" height="34"/><text x="557" y="4875">________(对方公司名称)：</text></g>
<g id="l10a1" class="n"><rect x="201" y="4620" width="313" height="110.2"/><text x="209" y="4636.5"><tspan x="209">贵公司自___年__月__日至___年__月__日止尚</tspan><tspan x="209" dy="19.3">欠我公司货款共___元，根据贵我双方所签署</tspan><tspan x="209" dy="19.3">的合同(或约定)，贵公司应在___年__月__日</tspan><tspan x="209" dy="19.3">付清该款。现贵公司已逾期__天仍未支付，严</tspan><tspan x="209" dy="19.3">重影响了我公司的资金周转和生产安排。</tspan></text></g>
<g id="l10a2" class="n"><rect x="201" y="4763" width="313" height="129.5"/><text x="209" y="4779.5"><tspan x="209">请贵公司收到此通知书后__天内将上述逾期未</tspan><tspan x="209" dy="19.3">付的货款汇付我公司帐户(户名：_____;开户</tspan><tspan x="209" dy="19.3">行：_____;帐号：_____)。否则，本公司将</tspan><tspan x="209" dy="19.3">循法律途径或委托相关追收人员上门催收解决</tspan><tspan x="209" dy="19.3">，届时可能造成贵公司不良影响并将有损贵公</tspan><tspan x="209" dy="19.3">司诚信形象。</tspan></text></g>
<g id="l10a3" class="n"><rect x="425" y="4925" width="89" height="34"/><text x="433" y="4942">故特此通知</text></g>
<g id="l10a4" class="n"><rect x="385" y="4991" width="129" height="34"/><text x="393" y="5008">_____公司(印章)</text></g>
<g id="l10a5" class="n"><rect x="365" y="5057" width="149" height="34"/><text x="373" y="5074">_____年__月__日</text></g>

<!-- 篇十二 -->
<g id="l12a" class="n"><rect x="615" y="5124" width="111" height="34"/><text x="623" y="5141">xxx(对方名称);</text></g>
<g id="l12b" class="n"><rect x="413" y="5419" width="313" height="52.3"/><text x="421" y="5435.5"><tspan x="421">现就贵方未及时支付我货款(未按时偿还欠款)</tspan><tspan x="421" dy="19.3">一事向贵方致函如下：</tspan></text></g>
<g id="l12b1" class="n"><rect x="64" y="5190" width="314" height="148.8"/><text x="72" y="5206.5"><tspan x="72">xx年x月x日，贵方与我(或"经协商达成口头协</tspan><tspan x="72" dy="19.3">议")签订了《xxxx合同》。双方约定,贵方应</tspan><tspan x="72" dy="19.3">于货到就付30%的货款(贵方应于xxxx年x月x</tspan><tspan x="72" dy="19.3">日偿还欠款xx元)。xx年x月xx日，我依约将货</tspan><tspan x="72" dy="19.3">物交给了贵司，然而贵方却并未能按约定及时</tspan><tspan x="72" dy="19.3">支付货款,现共欠货款xx元(然而贵方却并未能</tspan><tspan x="72" dy="19.3">按约定及时还款,现共欠款xx元)。</tspan></text></g>
<g id="l12b2" class="n"><rect x="64" y="5372" width="314" height="71.6"/><text x="72" y="5388.5"><tspan x="72">本人认为，双方既已有约在先，当全力守信方</tspan><tspan x="72" dy="19.3">能长期友好合作，故特致函请贵方于xx年x月</tspan><tspan x="72" dy="19.3">x日前将所欠款项支付我.</tspan></text></g>
<g id="l12b3" class="n"><rect x="333" y="5477" width="45" height="34"/><text x="341" y="5494">此致</text></g>
<g id="l12b4" class="n"><rect x="333" y="5543" width="45" height="34"/><text x="341" y="5560">敬礼</text></g>
<g id="l12b5" class="n"><rect x="296" y="5609" width="82" height="34"/><text x="304" y="5626">xxx年月日</text></g>
<g id="l12c" class="n"><rect x="413" y="5804" width="313" height="71.6"/><text x="421" y="5820.5"><tspan x="421">可以用固定格式的表格，也可以写成便函，不</tspan><tspan x="421" dy="19.3">论采取哪种形式，一般应该包括以下四个内容</tspan><tspan x="421" dy="19.3">：</tspan></text></g>
<g id="l12c1" class="n"><rect x="64" y="5676" width="314" height="90.9"/><text x="72" y="5692.5"><tspan x="72">1、标题和编号标题要简明，一般写作"催款通</tspan><tspan x="72" dy="19.3">知单"、"催收、清理联系单"等字样。如果催</tspan><tspan x="72" dy="19.3">收的是紧急款项，可在标题前加上"紧急"二字</tspan><tspan x="72" dy="19.3">。标题下要注明编号，以便于查询和联系。</tspan></text></g>
<g id="l12c2" class="n"><rect x="64" y="5800" width="314" height="110.2"/><text x="72" y="5816.5"><tspan x="72">2、双方单位的名称和账号要正确地写上催款</tspan><tspan x="72" dy="19.3">单位和前款单位的全称和账号。必要时候还应</tspan><tspan x="72" dy="19.3">该写上催款单位的地址、电话以及经办人的姓</tspan><tspan x="72" dy="19.3">名。如果是银行代为催款的，还必须写明双方</tspan><tspan x="72" dy="19.3">开户银行的全称和账号。</tspan></text></g>
<g id="l12c3" class="n"><rect x="160" y="5942" width="218" height="34"/><text x="168" y="5959">3、崔收的内容应该具体、准确</text></g>

<!-- watermarks -->
<g id="watermarks">
<text class="wm" x="1925" y="560" transform="rotate(-32 1925 515)">树图 shutu.cn</text>
<text class="wm" x="1925" y="1563" transform="rotate(-32 1925 1518)">树图 shutu.cn</text>
<text class="wm" x="1925" y="2565" transform="rotate(-32 1925 2520)">树图 shutu.cn</text>
<text class="wm" x="1925" y="3565" transform="rotate(-32 1925 3520)">树图 shutu.cn</text>
<text class="wm" x="1925" y="4565" transform="rotate(-32 1925 4520)">树图 shutu.cn</text>
<text class="wm" x="1925" y="5565" transform="rotate(-32 1925 5520)">树图 shutu.cn</text>
<text class="wm" x="1925" y="6565" transform="rotate(-32 1925 6520)">树图 shutu.cn</text>
<text class="wm" x="1925" y="7565" transform="rotate(-32 1925 7520)">树图 shutu.cn</text>
<text class="wm" x="650" y="560" transform="rotate(-32 650 515)">树图 shutu.cn</text>
<text class="wm" x="650" y="1563" transform="rotate(-32 650 1518)">树图 shutu.cn</text>
<text class="wm" x="650" y="2565" transform="rotate(-32 650 2520)">树图 shutu.cn</text>
<text class="wm" x="650" y="3565" transform="rotate(-32 650 3520)">树图 shutu.cn</text>
<text class="wm" x="650" y="4565" transform="rotate(-32 650 4520)">树图 shutu.cn</text>
<text class="wm" x="650" y="5565" transform="rotate(-32 650 5520)">树图 shutu.cn</text>
<text class="wm" x="650" y="6565" transform="rotate(-32 650 6520)">树图 shutu.cn</text>
</g>
</g>
</svg>
